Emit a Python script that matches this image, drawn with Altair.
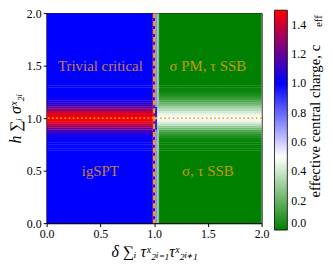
import altair as alt
import pandas as pd

# ---- data ----
x_cols = [0.0, 0.985, 1.008, 1.028, 1.046, 2.0]
y_rows = [0.70, 0.72, 0.74, 0.76, 0.78, 0.80, 0.82, 0.84, 0.86, 0.88, 0.90,
          0.92, 0.94, 0.96, 0.98, 1.00, 1.02, 1.04, 1.06, 1.08, 1.10, 1.12,
          1.14, 1.16, 1.18, 1.20, 1.22, 1.24, 1.26, 1.28, 1.30]
c_left = [1.0, 1.0, 1.0, 1.0, 1.005, 1.015, 1.03, 1.05, 1.09, 1.14, 1.21,
          1.29, 1.38, 1.44, 1.48, 1.50, 1.48, 1.44, 1.38, 1.29, 1.21, 1.14,
          1.09, 1.05, 1.03, 1.015, 1.005, 1.0, 1.0, 1.0, 1.0]
c_edge_a = [1.2, 1.2, 1.2, 1.2, 1.2, 1.2, 1.2, 1.2, 1.2, 1.2, 1.21,
            1.29, 1.38, 1.44, 1.48, 1.50, 1.48, 1.44, 1.38, 1.29, 1.21, 1.2,
            1.2, 1.2, 1.2, 1.2, 1.2, 1.2, 1.2, 1.2, 1.2]
c_edge_b = [0.72, 0.72, 0.72, 0.72, 0.72, 0.72, 0.72, 0.72, 0.72, 0.72, 0.95,
            0.95, 0.95, 0.95, 0.95, 0.6, 0.95, 0.95, 0.95, 0.95, 0.95, 0.72,
            0.72, 0.72, 0.72, 0.72, 0.72, 0.72, 0.72, 0.72, 0.72]
c_edge_c = [0.28, 0.28, 0.28, 0.28, 0.28, 0.28, 0.28, 0.28, 0.28, 0.28, 0.28,
            0.30, 0.37, 0.43, 0.47, 0.50, 0.48, 0.45, 0.41, 0.36, 0.31, 0.28,
            0.28, 0.28, 0.28, 0.28, 0.28, 0.28, 0.28, 0.28, 0.28]
c_right = [0.0, 0.0, 0.0, 0.0, 0.01, 0.03, 0.05, 0.08, 0.12, 0.17, 0.23,
           0.30, 0.37, 0.43, 0.47, 0.50, 0.48, 0.45, 0.41, 0.36, 0.31, 0.26,
           0.21, 0.16, 0.12, 0.09, 0.06, 0.04, 0.02, 0.01, 0.0]
profiles = [c_left, c_edge_a, c_edge_b, c_edge_c, c_right]

tick_vals = [0.0, 0.5, 1.0, 1.5, 2.0]
cbar_vals = [0.0, 0.2, 0.4, 0.6, 0.8, 1.0, 1.2, 1.4]
cmap_domain = [0.0, 0.5, 1.0, 1.5]
cmap_colors = ["#008000", "#ffffff", "#0000ff", "#ff0000"]

label_x = [0.5, 0.5, 1.5, 1.5]
label_y = [1.5, 0.5, 1.5, 0.5]
label_t = ["Trivial critical", "igSPT", "σ PM, τ SSB", "σ, τ SSB"]

# ---- table (cells overlap a hair to hide antialiasing seams) ----
rows = []
half = 0.0115
ov = 0.002
for j, prof in enumerate(profiles):
    x0, x1 = x_cols[j], x_cols[j + 1] + ov
    rows.append(dict(x=x0, x2=x1, y=0.0, y2=y_rows[0] - 0.009, c=prof[0]))
    rows.append(dict(x=x0, x2=x1, y=y_rows[-1] + 0.009, y2=2.0, c=prof[-1]))
    for yc, cv in zip(y_rows, prof):
        rows.append(dict(x=x0, x2=x1, y=yc - half, y2=yc + half, c=cv))
grid = pd.DataFrame(rows)

FONT = "Liberation Serif"
cscale = alt.Scale(domain=cmap_domain, range=cmap_colors, interpolate="rgb")
xy_scale = alt.Scale(domain=[0, 2], nice=False, zero=False, padding=0)

heat = alt.Chart(grid).mark_rect(clip=True).encode(
    x=alt.X("x:Q", scale=xy_scale,
            axis=alt.Axis(values=tick_vals, format=".1f", labelFlush=False,
                          title="δ ∑ᵢ τˣ₂ᵢ₋₁τˣ₂ᵢ₊₁",
                          titleY=29, titleBaseline="middle",
                          titleFontSize=16, titleFontStyle="italic")),
    x2="x2:Q",
    y=alt.Y("y:Q", scale=xy_scale,
            axis=alt.Axis(values=tick_vals, format=".1f", labelFlush=False,
                          title="h ∑ᵢ σˣ₂ᵢ",
                          titleX=-31, titleY=106, titleAngle=270,
                          titleBaseline="middle", titleAlign="center",
                          titleFontSize=16, titleFontStyle="italic")),
    y2="y2:Q",
    color=alt.Color("c:Q", scale=cscale,
                    legend=alt.Legend(orient="none", legendX=230, legendY=-3,
                                      direction="vertical", title=None,
                                      type="gradient",
                                      gradientLength=222, gradientThickness=13,
                                      values=cbar_vals, format=".1f",
                                      labelFont=FONT, labelFontSize=12,
                                      labelColor="black", labelOffset=4,
                                      labelBaseline="middle",
                                      gradientStrokeColor="black",
                                      gradientStrokeWidth=0.8)),
)

vline = alt.Chart(pd.DataFrame({"x": [1.0]})).mark_rule(
    color="orange", strokeWidth=2, strokeDash=[5, 3]).encode(x="x:Q")
hline = alt.Chart(pd.DataFrame({"y": [1.0]})).mark_rule(
    color="orange", strokeWidth=1.8, strokeDash=[1.6, 2.6]).encode(y="y:Q")

labels = alt.Chart(pd.DataFrame({"x": label_x, "y": label_y, "t": label_t})).mark_text(
    font=FONT, fontSize=15, color="orange", opacity=0.75).encode(
    x="x:Q", y="y:Q", text="t:N")

cbt = alt.Chart(pd.DataFrame({"t": ["effective central charge, c"]})).mark_text(
    font=FONT, fontSize=15, angle=270, align="center", baseline="middle",
    color="black").encode(x=alt.value(271), y=alt.value(109), text="t:N")
cbt_sub = alt.Chart(pd.DataFrame({"t": ["eff"]})).mark_text(
    font=FONT, fontSize=11, angle=270, align="center", baseline="middle",
    color="black").encode(x=alt.value(275), y=alt.value(8), text="t:N")

chart = alt.layer(heat, vline, hline, labels, cbt, cbt_sub).properties(
    width=217, height=212,
    autosize=alt.AutoSizeParams(type="none"),
    padding={"left": 39, "top": 4, "right": 64, "bottom": 36},
).configure_view(stroke="black", strokeWidth=1).configure_axis(
    grid=False, domainColor="black", tickColor="black", tickSize=3.5,
    labelFont=FONT, labelFontSize=12, labelColor="black",
    titleFont=FONT, titleColor="black", titleFontWeight="normal",
).configure_axisY(labelPadding=2).configure_axisX(labelPadding=2)

chart.save("out.html", embed_options={"renderer": "svg", "actions": False})
